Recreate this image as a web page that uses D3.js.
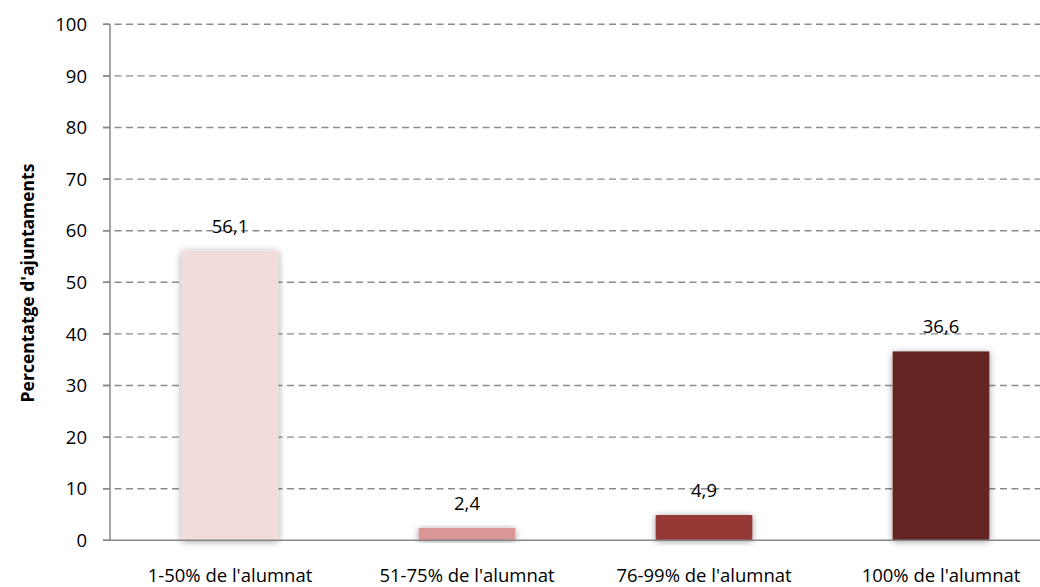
<!DOCTYPE html>
<html>
<head>
<meta charset="utf-8">
<script src="https://cdn.jsdelivr.net/npm/d3@7"></script>
<style>
  body { margin: 0; background: #fff; }
  text { font-family: "Open Sans", Lato, sans-serif; }
</style>
</head>
<body>
<svg width="1040" height="587"></svg>
<script>
const categories = ["1-50% de l'alumnat", "51-75% de l'alumnat", "76-99% de l'alumnat", "100% de l'alumnat"]
const values = [56.1, 2.4, 4.9, 36.6]
const barColors = ['#f2dcdb', '#d99694', '#953735', '#632523']
const yTicks = [0, 10, 20, 30, 40, 50, 60, 70, 80, 90, 100]
const yTitle = "Percentatge d'ajuntaments"

const svg = d3.select('svg')
const axisX = 110

const x = d3.scaleBand()
  .domain(categories)
  .range([111.5, 1059.5])
  .paddingInner(0.592)
  .paddingOuter(0.296)

const y = d3.scaleLinear().domain([0, 100]).range([540.3, 24.3])

// soft shadow behind the bars
const defs = svg.append('defs')
const f = defs.append('filter').attr('id', 'shadow')
  .attr('x', '-20%').attr('y', '-20%').attr('width', '140%').attr('height', '140%')
f.append('feDropShadow').attr('dx', 0).attr('dy', 1).attr('stdDeviation', 3.5)
  .attr('flood-color', '#000').attr('flood-opacity', 0.4)

// gridlines
svg.append('g')
  .selectAll('line')
  .data(yTicks.filter(d => d > 0))
  .enter().append('line')
  .attr('x1', 103).attr('x2', 1040)
  .attr('y1', d => y(d)).attr('y2', d => y(d))
  .style('stroke', '#8c8c8c')
  .style('stroke-width', '1.4px')
  .style('stroke-dasharray', '7,4.5')

// bars
svg.append('g')
  .selectAll('rect')
  .data(values)
  .enter().append('rect')
  .attr('x', (d, i) => x(categories[i]))
  .attr('width', x.bandwidth())
  .attr('y', d => y(d))
  .attr('height', d => y(0) - y(d))
  .attr('fill', (d, i) => barColors[i])
  .attr('filter', 'url(#shadow)')

// axes lines
svg.append('line')
  .attr('x1', axisX).attr('x2', axisX)
  .attr('y1', y(100)).attr('y2', y(0))
  .style('stroke', '#868686').style('stroke-width', '1.5px')
svg.append('line')
  .attr('x1', 103).attr('x2', 1040)
  .attr('y1', y(0)).attr('y2', y(0))
  .style('stroke', '#868686').style('stroke-width', '1.5px')

// y tick marks + labels
const yt = svg.append('g')
yt.selectAll('line')
  .data(yTicks)
  .enter().append('line')
  .attr('x1', 103).attr('x2', axisX)
  .attr('y1', d => y(d)).attr('y2', d => y(d))
  .style('stroke', '#868686').style('stroke-width', '1.5px')
yt.selectAll('text')
  .data(yTicks)
  .enter().append('text')
  .attr('x', 87)
  .attr('y', d => y(d))
  .attr('dy', '0.36em')
  .attr('text-anchor', 'end')
  .style('font-size', '18.5px')
  .style('fill', '#000')
  .text(d => d)

// value labels
svg.append('g')
  .selectAll('text')
  .data(values)
  .enter().append('text')
  .attr('x', (d, i) => x(categories[i]) + x.bandwidth() / 2)
  .attr('y', d => y(d) - 18)
  .attr('text-anchor', 'middle')
  .style('font-size', '18.5px')
  .text(d => d3.format('.1f')(d).replace('.', ','))

// category labels
svg.append('g')
  .selectAll('text')
  .data(categories)
  .enter().append('text')
  .attr('x', d => x(d) + x.bandwidth() / 2)
  .attr('y', 582)
  .attr('text-anchor', 'middle')
  .style('font-size', '18.5px')
  .text(d => d)

// y title
svg.append('text')
  .attr('transform', 'translate(34,283) rotate(-90)')
  .attr('text-anchor', 'middle')
  .style('font-size', '17.5px')
  .style('font-weight', 'bold')
  .text(yTitle)
</script>
</body>
</html>
